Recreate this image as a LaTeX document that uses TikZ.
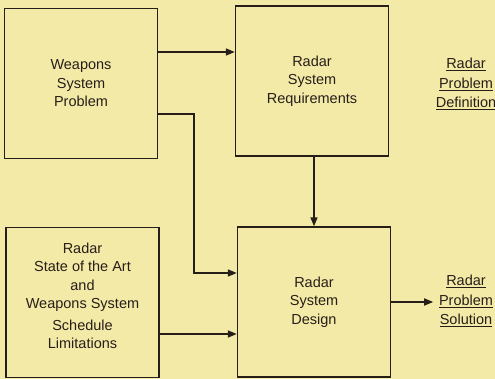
\documentclass[tikz,border=0pt]{standalone}
\usepackage{fontspec}
\setmainfont{Liberation Sans}
\usetikzlibrary{arrows.meta, calc, positioning}
\definecolor{paper}{RGB}{244,234,168}
\definecolor{ink}{RGB}{38,30,24}
\tikzset{blk/.style={draw=ink, line width=1.4pt, minimum width=153pt, minimum height=150pt, align=center, text=ink, font=\fontsize{14.5}{18.5}\selectfont},
	lbl/.style={align=center, text=ink, inner xsep=5pt, font=\fontsize{14.5}{19.5}\selectfont}}

\begin{document}
\begin{tikzpicture}[x=1pt, y=-1pt, >={Triangle[length=9pt,width=7pt]}, line width=1.6pt, ink]
		\fill[paper] (0,0) rectangle (495,379); \useasboundingbox (0,0) rectangle (495,379);
		\node[blk] (wsp) at (81,83.5) {Weapons\\System\\Problem};
		\node[blk] (rsr) at (312,81) {Radar\\System\\Requirements};
		\node[blk, text depth=14pt] (sota) at (82.5,302.5) {Radar\\State of the Art\\and\\Weapons System\\[3pt]Schedule\\Limitations};
		\node[blk] (rsd) at (314,302) {Radar\\System\\Design};
		\node[lbl] (def) at (466,84) {\underline{Radar}\\\underline{Problem}\\\underline{Definition}};
		\node[lbl] (sol) at (466,301) {\underline{Radar}\\\underline{Problem}\\\underline{Solution}};

		\coordinate (w1) at ([yshift=31.5pt]wsp.east); \draw[->] (w1) -- (w1 -| rsr.west);
		\coordinate (w2) at ([yshift=-30.5pt]wsp.east); \coordinate (d1) at ([yshift=29pt]rsd.west); \draw[->] (w2) -- ++(36,0) |- (d1);
		\coordinate (s1) at ([yshift=-31.5pt]sota.east); \draw[->] (s1) -- (s1 -| rsd.west);
		\draw[->] (rsd.north |- rsr.south) -- (rsd.north);
		\draw[->] (rsd.east) -- (rsd.east -| sol.west);
	\end{tikzpicture}
\end{document}
